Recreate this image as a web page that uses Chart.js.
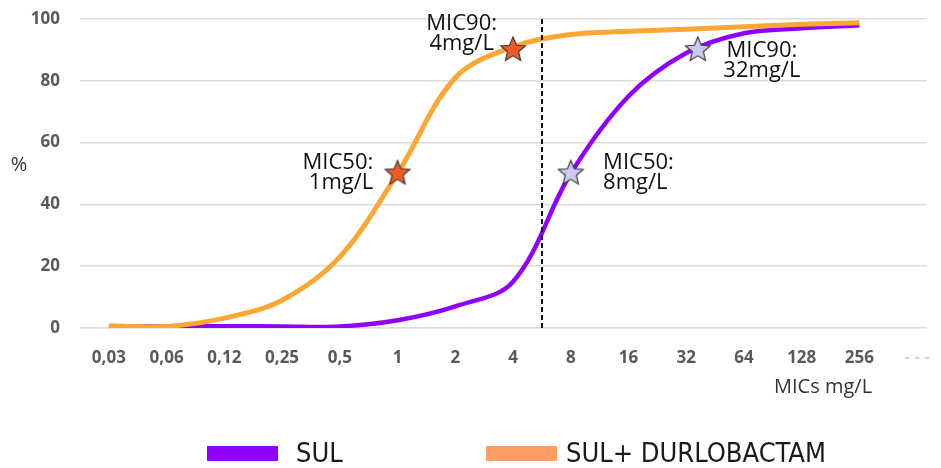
<!DOCTYPE html>
<html>
<head>
<meta charset="utf-8">
<script src="https://cdn.jsdelivr.net/npm/chart.js@4/dist/chart.umd.min.js"></script>
<style>
  body { margin: 0; background: #fff; }
  #wrap { position: relative; width: 941px; height: 468px; }
  #legend { position: absolute; left: 0; top: 438px; width: 941px; height: 30px;
            font-family: "Liberation Sans Narrow", "DejaVu Sans Condensed", sans-serif;
            font-size: 27px; color: #1a1a1a; }
  .sw { position: absolute; top: 8px; width: 71px; height: 15px; }
  .lt { position: absolute; top: 0; line-height: 30px; white-space: nowrap; }
</style>
</head>
<body>
<div id="wrap">
  <canvas id="mic"></canvas>
  <div id="legend"></div>
</div>
<script>
// MIC categories (mg/L), last one is the faint cut-off label
var micLabels = ['0,03', '0,06', '0,12', '0,25', '0,5', '1', '2', '4', '8', '16', '32', '64', '128', '256', '- - -'];
// cumulative % inhibited
var sulValues = [0.5, 0.5, 0.6, 0.5, 0.5, 2.5, 7, 15, 50, 75, 89, 95.4, 97, 98];
var durValues = [0.7, 0.5, 3.2, 9, 23, 50, 81, 91, 95, 96, 96.7, 97.5, 98.3, 98.8];
var yTicks = [0, 20, 40, 60, 80, 100];
// MIC50 / MIC90 markers
var durStars = [{x: 5, y: 50}, {x: 7, y: 90}];
var sulStars = [{x: 8, y: 50}, {x: 10.2, y: 90}];
var breakpoint = 7.5;

var seriesNames = ['SUL', 'SUL+ DURLOBACTAM'];
var lineColors = ['#8f00ff', '#fba734'];
var legendColors = ['#9100ff', '#ff9c63'];

var notes = [
  {x: 4.58, y: 53.4, lines: ['MIC50:', '1mg/L'], align: 'right'},
  {x: 6.11, y: 98.4, lines: ['MIC90:', '4mg/L'], align: 'center'},
  {x: 8.56, y: 53.6, lines: ['MIC50:', '8mg/L'], align: 'left'},
  {x: 11.31, y: 89.8, lines: ['MIC90:', '32mg/L'], align: 'center'}
];

function toPoints(vals) {
  return vals.map(function (v, i) { return {x: i, y: v}; });
}

function starImage(fill, r) {
  var c = document.createElement('canvas');
  var s = r * 2 + 4;
  c.width = s; c.height = s;
  var g = c.getContext('2d');
  g.beginPath();
  for (var i = 0; i < 10; i++) {
    var a = -Math.PI / 2 + i * Math.PI / 5;
    var rr = i % 2 ? r * 0.45 : r;
    g.lineTo(s / 2 + rr * Math.cos(a), s / 2 + rr * Math.sin(a));
  }
  g.closePath();
  g.fillStyle = fill;
  g.fill();
  g.strokeStyle = '#3a3a3a';
  g.lineWidth = 1.2;
  g.stroke();
  return c;
}

var notesPlugin = {
  id: 'micNotes',
  afterDatasetsDraw: function (chart) {
    var ctx = chart.ctx, xs = chart.scales.x, ys = chart.scales.y;
    var a = chart.chartArea;
    // breakpoint line
    ctx.save();
    ctx.strokeStyle = '#111';
    ctx.lineWidth = 2;
    ctx.setLineDash([5, 3]);
    var bx = Math.round(xs.getPixelForValue(breakpoint));
    ctx.beginPath();
    ctx.moveTo(bx, a.top);
    ctx.lineTo(bx, a.bottom);
    ctx.stroke();
    ctx.restore();

    ctx.save();
    ctx.fillStyle = '#111';
    ctx.font = '22px "Open Sans"';
    ctx.textBaseline = 'middle';
    notes.forEach(function (n) {
      var px = xs.getPixelForValue(n.x), py = ys.getPixelForValue(n.y);
      ctx.textAlign = n.align;
      n.lines.forEach(function (t, k) {
        ctx.fillText(t, px, py + k * 20);
      });
    });
    ctx.fillStyle = '#333';
    ctx.font = '20px "Open Sans"';
    ctx.textAlign = 'center';
    ctx.fillText('%', 19, 165);
    ctx.fillText('MICs mg/L', xs.getPixelForValue(12.37), 387);
    ctx.restore();
  }
};

new Chart(document.getElementById('mic'), {
  type: 'line',
  data: {
    datasets: [
      {
        label: 'MIC SUL+DUR',
        data: durStars,
        showLine: false,
        pointStyle: starImage('#f25a25', 13),
        pointRadius: 13,
        order: 0
      },
      {
        label: 'MIC SUL',
        data: sulStars,
        showLine: false,
        pointStyle: starImage('#c8caf0', 13),
        pointRadius: 13,
        order: 0
      },
      {
        label: seriesNames[1],
        data: toPoints(durValues),
        borderColor: lineColors[1],
        borderWidth: 5,
        pointRadius: 0,
        tension: 0.35,
        order: 1
      },
      {
        label: seriesNames[0],
        data: toPoints(sulValues),
        borderColor: lineColors[0],
        borderWidth: 4.5,
        pointRadius: 0,
        tension: 0.35,
        order: 2
      }
    ]
  },
  options: {
    responsive: true,
    maintainAspectRatio: false,
    animation: false,
    layout: { padding: { top: 19, left: 0, right: 0, bottom: 0 } },
    plugins: {
      legend: { display: false },
      tooltip: { enabled: false }
    },
    scales: {
      x: {
        type: 'linear',
        min: -0.5,
        max: 14.17,
        grid: { display: false },
        border: { display: false },
        afterBuildTicks: function (scale) {
          scale.ticks = micLabels.map(function (l, i) { return {value: i}; });
        },
        afterFit: function (scale) {
          scale.height = 140;
          scale.paddingLeft = 0;
          scale.paddingRight = 0;
        },
        ticks: {
          autoSkip: false,
          maxRotation: 0,
          padding: 12,
          font: { family: 'Open Sans', size: 17, weight: 'bold' },
          color: function (c) { return c.index === 14 ? '#d4d4d4' : '#595959'; },
          callback: function (v) { return micLabels[v]; }
        }
      },
      y: {
        min: 0,
        max: 100,
        afterBuildTicks: function (scale) {
          scale.ticks = yTicks.map(function (v) { return {value: v}; });
        },
        afterFit: function (scale) {
          scale.width = 80;
          scale.paddingTop = 0;
          scale.paddingBottom = 0;
        },
        grid: { color: '#dcdcdc', lineWidth: 1.5, drawTicks: false },
        border: { display: false },
        ticks: {
          padding: 20,
          font: { family: 'Open Sans', size: 17, weight: 'bold' },
          color: '#595959'
        }
      }
    }
  },
  plugins: [notesPlugin]
});

// legend below the chart
var leg = document.getElementById('legend');
var swLeft = [207, 486], txtLeft = [296, 566];
seriesNames.forEach(function (name, i) {
  var sw = document.createElement('div');
  sw.className = 'sw';
  sw.style.left = swLeft[i] + 'px';
  sw.style.background = legendColors[i];
  leg.appendChild(sw);
  var t = document.createElement('span');
  t.className = 'lt';
  t.style.left = txtLeft[i] + 'px';
  t.textContent = name;
  leg.appendChild(t);
});
</script>
</body>
</html>
